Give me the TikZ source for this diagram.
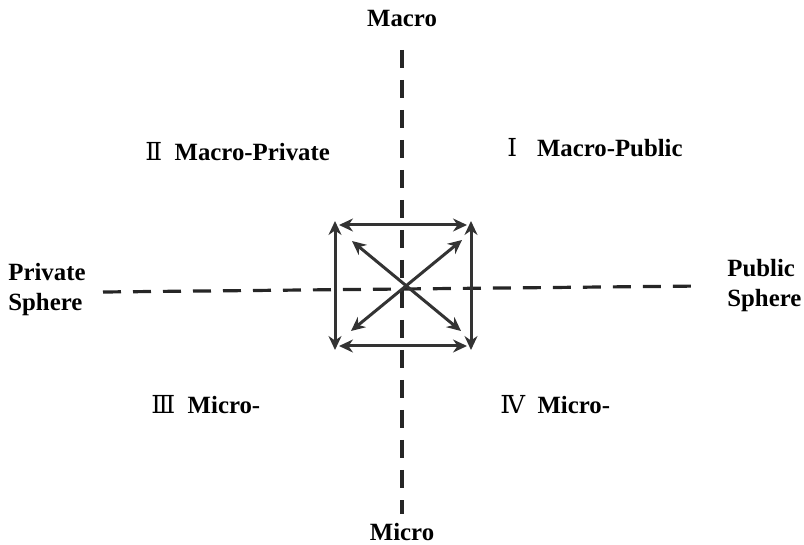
\documentclass[tikz,border=0pt]{standalone}
\usepackage{fontspec}
\setmainfont{Liberation Serif}
\newfontfamily\numfont{DejaVu Serif}
\usetikzlibrary{arrows.meta}

\begin{document}
\begin{tikzpicture}[x=0.5pt, y=-0.5pt, every node/.style={font=\fontsize{12.4}{15}\selectfont\bfseries, inner sep=0pt}]
  \tikzstyle{axis}=[line width=1.6pt, dash pattern=on 9pt off 6pt, color=black!85]
  \tikzstyle{dbl}=[line width=1.5pt, color=black!80, {Stealth[length=7pt,width=6.5pt]}-{Stealth[length=7pt,width=6.5pt]}]
  \tikzstyle{quad}=[anchor=west]
  \useasboundingbox (0, 0) rectangle (804, 545);
  % axes
  \coordinate (top) at (402, 50);
  \coordinate (bot) at (402, 514);
  \coordinate (lft) at (103, 292);
  \coordinate (rgt) at (702, 286);
  \draw[axis] (top) -- (bot);
  \draw[axis] (lft) -- (rgt);
  \node (macro) at (402, 19) {Macro};
  \node (micro) at (402, 532) {Micro};
  \node[align=left, anchor=west] (priv) at (8, 290) {Private\\Sphere};
  \node[align=left, anchor=west] (pub) at (727, 286) {Public\\Sphere};
  % quadrants
  \node[quad] (q1) at (507, 148) {{\numfont\mdseries Ⅰ}\hspace{0.8em}Macro-Public};
  \node[quad] (q2) at (145, 152) {{\numfont\mdseries Ⅱ}\hspace{0.5em}Macro-Private};
  \node[quad] (q3) at (151, 405) {{\numfont\mdseries Ⅲ}\hspace{0.5em}Micro-};
  \node[quad] (q4) at (500, 405) {{\numfont\mdseries Ⅳ}\hspace{0.5em}Micro-};
  % box of arrows
  \coordinate (tl) at (335, 225);
  \coordinate (tr) at (471, 225);
  \coordinate (bl) at (335, 346);
  \coordinate (br) at (471, 346);
  \draw[dbl] ([xshift=2]tl) -- ([xshift=-2]tr);
  \draw[dbl] ([xshift=2]bl) -- ([xshift=-2]br);
  \draw[dbl] ([yshift=2]tl) -- ([yshift=-2]bl);
  \draw[dbl] ([yshift=2]tr) -- ([yshift=-2]br);
  \coordinate (d1) at (352, 241);
  \coordinate (d2) at (461, 331);
  \coordinate (d3) at (462, 240);
  \coordinate (d4) at (351, 331);
  \draw[dbl] (d1) -- (d2);
  \draw[dbl] (d3) -- (d4);
\end{tikzpicture}
\end{document}
